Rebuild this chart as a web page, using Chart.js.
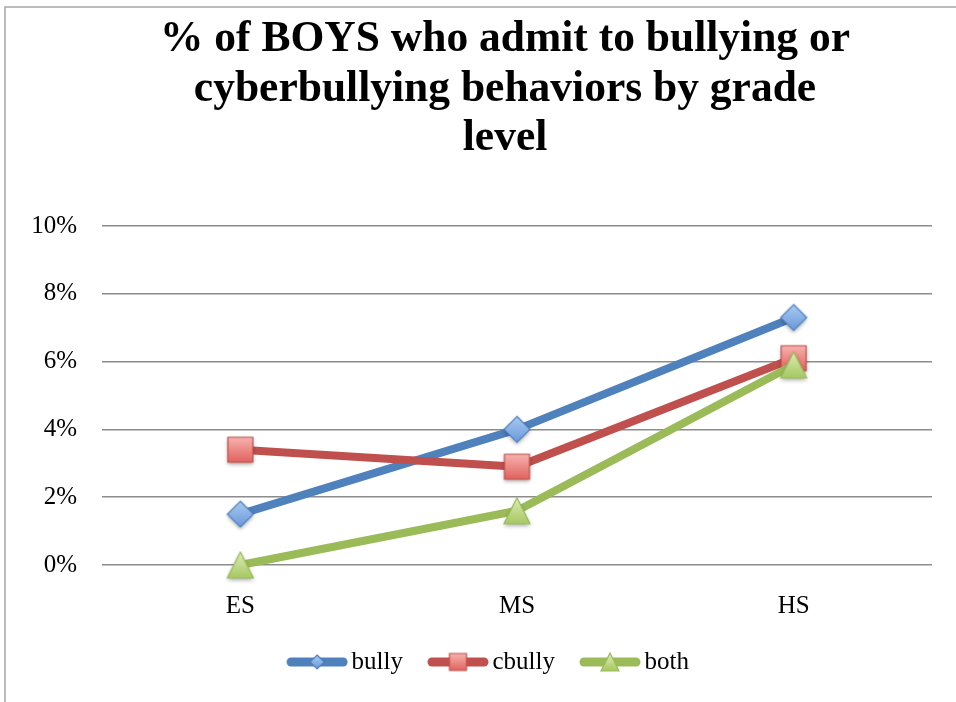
<!DOCTYPE html>
<html><head><meta charset="utf-8">
<script src="https://cdn.jsdelivr.net/npm/chart.js@4.4.0/dist/chart.umd.min.js"></script>
<style>html,body{margin:0;padding:0;background:#fff;overflow:hidden}#wrap{width:956px;height:702px;position:relative}</style>
</head><body><div id="wrap"><canvas id="c" width="956" height="702"></canvas></div>
<script>
const categories = ['ES', 'MS', 'HS'];
const bully = [1.5, 4.0, 7.3];
const cbully = [3.4, 2.9, 6.1];
const both = [0, 1.6, 5.9];
const yTicks = [0, 2, 4, 6, 8, 10];
const seriesNames = ['bully', 'cbully', 'both'];
const titleLines = ['% of BOYS who admit to bullying or', 'cyberbullying behaviors by grade', 'level'];

const FONT = "'Liberation Serif', 'DejaVu Serif', serif";
const colors = ['#4f81bd', '#c0504d', '#9bbb59'];

function marker(shape, size, top, bottom, stroke, shadow) {
  const pad = 6;
  const c = document.createElement('canvas');
  c.width = size + pad * 2; c.height = size + pad * 2;
  const g = c.getContext('2d');
  const cx = c.width / 2, cy = c.height / 2, r = size / 2;
  function path() {
    g.beginPath();
    if (shape === 'diamond') { g.moveTo(cx, cy - r); g.lineTo(cx + r, cy); g.lineTo(cx, cy + r); g.lineTo(cx - r, cy); g.closePath(); }
    else if (shape === 'square') { g.rect(cx - r, cy - r, size, size); }
    else { g.moveTo(cx, cy - r); g.lineTo(cx + r, cy + r); g.lineTo(cx - r, cy + r); g.closePath(); }
  }
  if (shadow) {
    g.save(); g.shadowColor = 'rgba(0,0,0,0.35)'; g.shadowBlur = 4; g.shadowOffsetY = 2;
    path(); g.fillStyle = bottom; g.fill(); g.restore();
  }
  const grd = g.createLinearGradient(0, cy - r, 0, cy + r);
  grd.addColorStop(0, top); grd.addColorStop(1, bottom);
  path(); g.fillStyle = grd; g.fill();
  g.lineWidth = 1.2; g.strokeStyle = stroke; g.stroke();
  return c;
}
const shapes = ['diamond', 'square', 'triangle'];
const tops = ['#a9cbf4', '#f7b2af', '#dcedb4'];
const bottoms = ['#6b98d8', '#e2625e', '#a6c862'];
const pointMarkers = shapes.map((s, i) => marker(s, i === 1 ? 25 : 26, tops[i], bottoms[i], colors[i], true));
const legendMarkers = shapes.map((s, i) => marker(s, i === 0 ? 14 : (i === 1 ? 17 : 18), tops[i], bottoms[i], colors[i], false));

function legendIcon(color, mk) {
  const W = 62, H = 26;
  const c = document.createElement('canvas'); c.width = W; c.height = H;
  const g = c.getContext('2d');
  g.lineCap = 'round'; g.lineWidth = 9; g.strokeStyle = color;
  g.beginPath(); g.moveTo(5, H / 2); g.lineTo(W - 5, H / 2); g.stroke();
  g.drawImage(mk, (W - mk.width) / 2, (H - mk.height) / 2);
  return c;
}
const legendIcons = colors.map((c, i) => legendIcon(c, legendMarkers[i]));

const seriesData = [bully, cbully, both];
const datasets = seriesNames.map((name, i) => ({
  label: name,
  data: seriesData[i],
  borderColor: colors[i],
  backgroundColor: colors[i],
  borderWidth: 8,
  borderJoinStyle: 'round',
  borderCapStyle: 'round',
  pointStyle: pointMarkers[i],
  pointRadius: 13,
  pointHoverRadius: 13,
  tension: 0,
  fill: false,
  clip: false,
  order: 3 - i
}));

const framePlugin = {
  id: 'frame',
  beforeDraw(chart) {
    const ctx = chart.ctx;
    ctx.save();
    ctx.fillStyle = '#fff';
    ctx.fillRect(0, 0, chart.width, chart.height);
    ctx.strokeStyle = '#a6a6a6';
    ctx.lineWidth = 1.5;
    ctx.beginPath();
    ctx.moveTo(5, chart.height + 2); ctx.lineTo(5, 7); ctx.lineTo(chart.width + 2, 7);
    ctx.stroke();
    ctx.restore();
  },
  afterLayout(chart) {
    const lg = chart.legend;
    if (lg) {
      lg.left += 16; lg.right += 16;
      lg.top -= 17.5; lg.bottom -= 17.5;
    }
    const tb = chart.titleBlock;
    if (tb) { tb.left += 29; tb.right += 29; }
  }
};

new Chart(document.getElementById('c'), {
  type: 'line',
  data: { labels: categories, datasets },
  options: {
    responsive: false,
    animation: false,
    events: [],
    layout: { padding: { left: 20, right: 24, top: 0, bottom: 0 } },
    plugins: {
      title: {
        display: true,
        text: titleLines,
        color: '#000',
        font: { family: FONT, size: 43.5, weight: 'bold', lineHeight: 1.138 },
        padding: { top: 15.5, bottom: 62 }
      },
      legend: {
        position: 'bottom',
        labels: {
          usePointStyle: true,
          pointStyleWidth: 44,
          padding: 33,
          color: '#000',
          font: { family: FONT, size: 25 },
          generateLabels: (chart) => chart.data.datasets.map((ds, i) => ({
            text: ds.label,
            pointStyle: legendIcons[i],
            fillStyle: colors[i],
            strokeStyle: colors[i],
            lineWidth: 0,
            hidden: false,
            datasetIndex: i,
            fontColor: '#000'
          }))
        }
      },
      tooltip: { enabled: false }
    },
    scales: {
      x: {
        offset: true,
        grid: { display: false, drawTicks: false },
        border: { display: false },
        ticks: { color: '#000', font: { family: FONT, size: 25 }, padding: 26 },
        afterFit(s) { s.height = 69; }
      },
      y: {
        min: 0, max: 10,
        afterBuildTicks(s) { s.ticks = yTicks.map(v => ({ value: v })); },
        grid: { color: '#8c8c8c', lineWidth: 1.5, drawTicks: false },
        border: { display: false },
        ticks: { color: '#000', font: { family: FONT, size: 25 }, padding: 25, callback: v => v + '%' },
        afterFit(s) { s.width = 82; }
      }
    }
  },
  plugins: [framePlugin]
});
</script>
</body></html>
